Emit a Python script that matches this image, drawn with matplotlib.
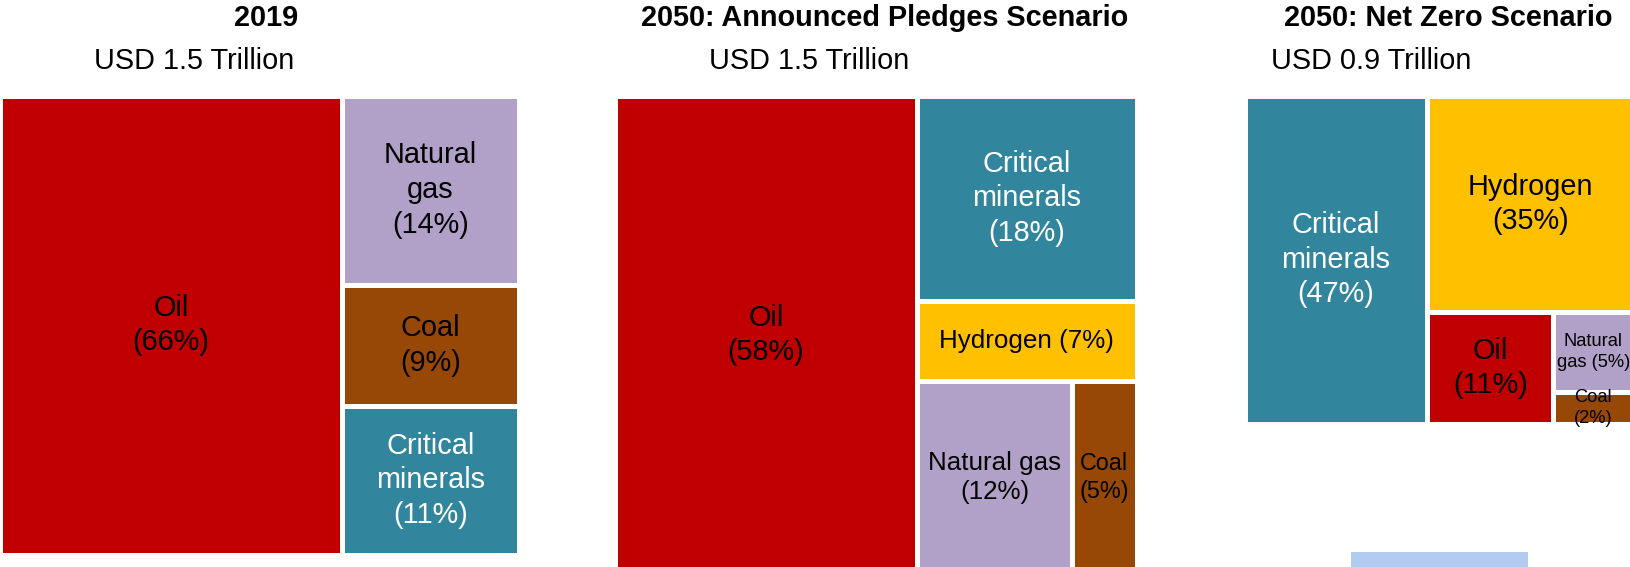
import matplotlib
matplotlib.use("Agg")
import matplotlib.pyplot as plt
from matplotlib.patches import Rectangle

plt.rcParams["font.family"] = ["Liberation Sans", "DejaVu Sans"]

FIG_W, FIG_H, DPI = 1630, 567, 100

# ---- data: revenue shares (%) by source -------------------------------------
titles = ["2019", "2050: Announced Pledges Scenario", "2050: Net Zero Scenario"]
totals = ["USD 1.5 Trillion", "USD 1.5 Trillion", "USD 0.9 Trillion"]

categories_2019 = ["Oil", "Natural gas", "Coal", "Critical minerals"]
shares_2019 = [66, 14, 9, 11]

categories_aps = ["Oil", "Critical minerals", "Hydrogen", "Natural gas", "Coal"]
shares_aps = [58, 18, 7, 12, 5]

categories_nze = ["Critical minerals", "Hydrogen", "Oil", "Natural gas", "Coal"]
shares_nze = [47, 35, 11, 5, 2]

# ---- styling -----------------------------------------------------------------
COLORS = {
    "Oil": "#C00000",
    "Natural gas": "#B1A0C7",
    "Coal": "#974706",
    "Critical minerals": "#31859C",
    "Hydrogen": "#FFC000",
}
TEXT_COLORS = {"Critical minerals": "white"}

LABEL_FORMAT = {
    "2019": {
        "Oil": "Oil\n({}%)",
        "Natural gas": "Natural\ngas\n({}%)",
        "Coal": "Coal\n({}%)",
        "Critical minerals": "Critical\nminerals\n({}%)",
    },
    "aps": {
        "Oil": "Oil\n({}%)",
        "Critical minerals": "Critical\nminerals\n({}%)",
        "Hydrogen": "Hydrogen ({}%)",
        "Natural gas": "Natural gas\n({}%)",
        "Coal": "Coal\n({}%)",
    },
    "nze": {
        "Critical minerals": "Critical\nminerals\n({}%)",
        "Hydrogen": "Hydrogen\n({}%)",
        "Oil": "Oil\n({}%)",
        "Natural gas": "Natural\ngas ({}%)",
        "Coal": "Coal\n({}%)",
    },
}
LABEL_SIZE = {
    "2019": [20.8, 20.8, 20.8, 20.8],
    "aps": [20.8, 20.8, 18.7, 18.7, 16.8],
    "nze": [20.8, 20.8, 20.8, 13.2, 13.2],
}

# slice-and-dice structure of each treemap: ("h", ...) splits left-to-right,
# ("v", ...) splits top-to-bottom; integers index the category lists
TREE = {
    "2019": ("h", [0, ("v", [1, 2, 3])]),
    "aps": ("h", [0, ("v", [1, 2, ("h", [3, 4])])]),
    "nze": ("h", [0, ("v", [1, ("h", [2, ("v", [3, 4])])])]),
}

# panel boxes in pixels: left, top, right, bottom (visible coloured area)
PANEL_BOX = {
    "2019": (2, 98, 516, 552),
    "aps": (617, 98, 1134, 572),
    "nze": (1247, 98, 1631, 421),
}
TITLE_X = [266, 885, 1448]
TOTAL_X = [194, 809, 1371]
TITLE_BASELINE = 26
TOTAL_BASELINE = 69
GAP_PX = 5.0


def node_sum(node, values):
    if isinstance(node, int):
        return values[node]
    return sum(node_sum(c, values) for c in node[1])


def layout(node, x, y, w, h, values, out):
    if isinstance(node, int):
        out.append((node, x, y, w, h))
        return
    direction, children = node
    total = node_sum(node, values)
    pos = x if direction == "h" else y
    for child in children:
        frac = node_sum(child, values) / total
        if direction == "h":
            cw = w * frac
            layout(child, pos, y, cw, h, values, out)
            pos += cw
        else:
            ch = h * frac
            layout(child, x, pos, w, ch, values, out)
            pos += ch


fig = plt.figure(figsize=(FIG_W / DPI, FIG_H / DPI), dpi=DPI)
fig.patch.set_facecolor("white")

panels = [
    ("2019", categories_2019, shares_2019),
    ("aps", categories_aps, shares_aps),
    ("nze", categories_nze, shares_nze),
]

half = GAP_PX / 2
edge_lw = GAP_PX * 72 / DPI

for i, (key, cats, vals) in enumerate(panels):
    l, t, r, b = PANEL_BOX[key]
    l, t, r, b = l - half, t - half, r + half, b + half
    ax = fig.add_axes([l / FIG_W, 1 - b / FIG_H, (r - l) / FIG_W, (b - t) / FIG_H])
    ax.set_xlim(0, 1)
    ax.set_ylim(1, 0)
    ax.axis("off")

    rects = []
    layout(TREE[key], 0.0, 0.0, 1.0, 1.0, vals, rects)
    for idx, x, y, w, h in rects:
        cat = cats[idx]
        patch = Rectangle((x, y), w, h, facecolor=COLORS[cat], edgecolor="white",
                          linewidth=edge_lw, clip_on=False)
        ax.add_patch(patch)
        label = LABEL_FORMAT[key][cat].format(vals[idx])
        txt = ax.text(x + w / 2, y + h / 2, label, ha="center", va="center",
                      multialignment="center", fontsize=LABEL_SIZE[key][idx],
                      color=TEXT_COLORS.get(cat, "black"), linespacing=1.3)
        txt.set_clip_path(patch)

    fig.text(TITLE_X[i] / FIG_W, 1 - TITLE_BASELINE / FIG_H, titles[i],
             ha="center", va="baseline", fontsize=20.8, fontweight="bold")
    fig.text(TOTAL_X[i] / FIG_W, 1 - TOTAL_BASELINE / FIG_H, totals[i],
             ha="center", va="baseline", fontsize=20.8)

# light-blue box peeking in at the bottom edge
fig.patches.append(Rectangle((1351 / FIG_W, 0), (1528 - 1351) / FIG_W, 15 / FIG_H,
                             transform=fig.transFigure, facecolor="#B3CBEE",
                             edgecolor="none"))

fig.savefig("out.png", dpi=DPI, facecolor="white")
